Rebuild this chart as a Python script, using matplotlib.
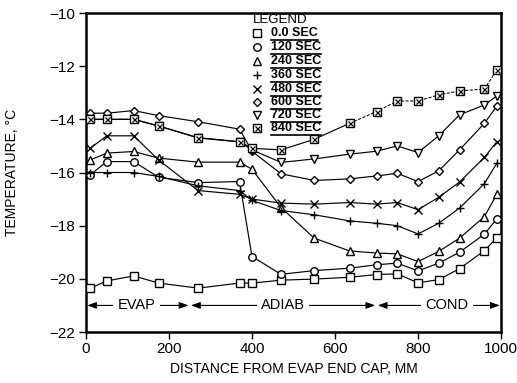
import matplotlib
matplotlib.use("Agg")
import matplotlib.pyplot as plt
import numpy as np

plt.rcParams['font.family'] = ['Liberation Sans', 'DejaVu Sans']

# ---------------- data ----------------
distance_mm = [10, 50, 115, 175, 270, 370, 400, 470, 550, 635, 700, 750, 800, 850, 900, 960, 990]
labels = ["0.0 SEC", "120 SEC", "240 SEC", "360 SEC", "480 SEC", "600 SEC", "720 SEC", "840 SEC"]
t_0 = [-20.35, -20.08, -19.89, -20.16, -20.35, -20.16, -20.16, -20.05, -20.01, -19.94, -19.84, -19.81, -20.15, -20.03, -19.62, -18.94, -18.46]
t_120 = [-16.09, -15.59, -15.59, -16.18, -16.38, -16.34, -19.16, -19.83, -19.69, -19.60, -19.47, -19.41, -19.70, -19.41, -19.00, -18.32, -17.74]
t_240 = [-15.53, -15.27, -15.21, -15.46, -15.61, -15.61, -15.88, -17.32, -18.47, -18.95, -19.03, -19.06, -19.35, -18.97, -18.47, -17.66, -16.82]
t_360 = [-16.00, -16.00, -16.00, -16.15, -16.50, -16.68, -17.05, -17.43, -17.59, -17.82, -17.91, -18.00, -18.31, -17.91, -17.34, -16.42, -15.65]
t_480 = [-15.09, -14.62, -14.62, -15.53, -16.68, -16.82, -17.00, -17.15, -17.19, -17.13, -17.19, -17.13, -17.40, -16.93, -16.36, -15.43, -14.84]
t_600 = [-13.77, -13.77, -13.67, -13.86, -14.09, -14.37, -15.20, -16.05, -16.30, -16.24, -16.13, -16.03, -16.34, -15.94, -15.15, -14.15, -13.50]
t_720 = [-14.00, -14.00, -14.00, -14.25, -14.70, -14.85, -15.15, -15.62, -15.49, -15.31, -15.20, -15.00, -15.25, -14.62, -13.83, -13.46, -13.12]
t_840 = [-14.00, -14.00, -14.00, -14.25, -14.69, -14.84, -15.09, -15.15, -14.75, -14.15, -13.71, -13.31, -13.31, -13.08, -12.93, -12.86, -12.14]
series = [t_0, t_120, t_240, t_360, t_480, t_600, t_720, t_840]
markers = ['s', 'o', '^', '+', 'x', 'D', 'v', 's']
msizes = [5.2, 5.4, 5.4, 6, 6, 3.8, 5.4, 5.4]

sections = [("EVAP", 0, 250), ("ADIAB", 250, 700), ("COND", 700, 1000)]

# ---------------- figure ----------------
fig = plt.figure(figsize=(5.17, 3.83), dpi=100)
ax = fig.add_axes([86/517, 1-332/383, 415/517, 319/383])
ax.set_xlim(0, 1000)
ax.set_ylim(-22, -10)

for i, (ys, m, ms) in enumerate(zip(series, markers, msizes)):
    x = np.array(distance_mm)
    y = np.array(ys)
    if i == 7:
        ax.plot(x[:10], y[:10], color='black', lw=0.85, zorder=2)
        ax.plot(x[9:], y[9:], color='black', lw=0.75, ls=(0, (3, 1.5)), zorder=2)
        ax.plot(x, y, ls='none', marker='s', ms=ms, mfc='white', mec='black', mew=1.0, zorder=3)
        ax.plot(x, y, ls='none', marker='x', ms=3.6, mec='black', mew=0.9, zorder=4)
    else:
        mfc = 'white' if m not in ('+', 'x') else 'black'
        ax.plot(x, y, color='black', lw=0.85, marker=m, ms=ms, mfc=mfc, mec='black',
                mew=1.0, zorder=3)

# section arrows
for name, x0, x1 in sections:
    for end in (x0 + 3, x1 - 3):
        ax.annotate('', xy=(end, -21), xytext=((x0 + x1) / 2, -21),
                    arrowprops=dict(arrowstyle='-|>,head_length=0.55,head_width=0.2', color='black',
                                    lw=0.8, shrinkA=0, shrinkB=0))
    cx = (x0 + x1) / 2 + {"EVAP": -3, "ADIAB": 0, "COND": 20}[name]
    ax.text(cx, -21, name, ha='center', va='center', fontsize=10.5,
            bbox=dict(facecolor='white', edgecolor='none', pad=3), zorder=5)

# legend (manual)
ax.text(0.402, 0.978, "LEGEND", transform=ax.transAxes, fontsize=9.5, ha='left', va='center')
leg_y = [33, 47, 61, 75, 89, 102, 115, 128]
fig.canvas.draw()
renderer = fig.canvas.get_renderer()
inv = ax.transAxes.inverted()
for lbl, m, ms, ypx in zip(labels, markers, msizes, leg_y):
    ya = (332 - ypx) / 319
    mfc = 'white' if m not in ('+', 'x') else 'black'
    ax.plot([0.413], [ya], transform=ax.transAxes, ls='none', marker=m, ms=ms,
            mfc=mfc, mec='black', mew=1.0, clip_on=False)
    if lbl == "840 SEC":
        ax.plot([0.413], [ya], transform=ax.transAxes, ls='none', marker='x', ms=3.6,
                mec='black', mew=0.9, clip_on=False)
    t = ax.text(0.446, ya, lbl, transform=ax.transAxes, fontsize=9, fontweight='bold',
                ha='left', va='center')
    bb = t.get_window_extent(renderer=renderer)
    (ax0, ay0), (ax1, ay1) = inv.transform([[bb.x0, bb.y0], [bb.x1, bb.y1]])
    ax.plot([ax0, ax1], [ay0 - 0.002, ay0 - 0.002], transform=ax.transAxes, color='black',
            lw=1.2, clip_on=False)

# axes styling
ax.set_xticks([0, 200, 400, 600, 800, 1000])
ax.set_yticks([-22, -20, -18, -16, -14, -12, -10])
ax.tick_params(direction='out', length=5, width=1, labelsize=11, pad=2)
ax.tick_params(axis='y', pad=3)
for s in ax.spines.values():
    s.set_linewidth(1.8)
ax.set_xlabel("DISTANCE FROM EVAP END CAP, MM", fontsize=10)
ax.set_ylabel("TEMPERATURE, °C", fontsize=10)
ax.xaxis.set_label_coords(0.5, (332 - 369) / 319, transform=ax.transAxes)
ax.yaxis.set_label_coords((12 - 86) / 415, 0.5, transform=ax.transAxes)
ax.xaxis.label.set_va('center')
ax.yaxis.label.set_va('center')

fig.savefig("out.png", dpi=100)
